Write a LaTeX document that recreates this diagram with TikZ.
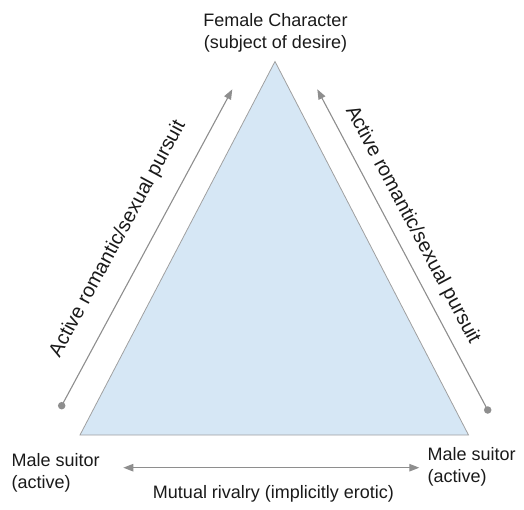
\documentclass[tikz,border=0pt]{standalone}
\usepackage{fontspec}
\setmainfont{Liberation Sans}
\usetikzlibrary{arrows.meta}
\definecolor{trifill}{HTML}{D6E7F5}
\definecolor{triedge}{HTML}{A0A0A0}
\definecolor{arrgray}{HTML}{8E8E8E}
\definecolor{txt}{HTML}{1A1A1A}
\tikzset{
  lbl/.style={inner sep=0pt, text=txt, font=\fontsize{18}{22.3}\selectfont},
  rotlbl/.style={inner sep=0pt, text=txt, font=\fontsize{20}{24}\selectfont},
  arr/.style={draw=arrgray, line width=1.1pt, -{Triangle[length=10pt,width=7.5pt]}},
  dblarr/.style={draw=arrgray, line width=1.1pt, {Triangle[length=10pt,width=7.5pt]}-{Triangle[length=10pt,width=7.5pt]}},
  dotend/.style={circle, fill=arrgray, inner sep=0pt, minimum size=7.5pt},
  tri/.style={fill=trifill, draw=triedge, line width=0.8pt, line join=miter}
}
\begin{document}
\begin{tikzpicture}[x=1pt,y=-1pt]
\useasboundingbox (0,0) rectangle (524,510);
% triangle
\coordinate (apex) at (275,61.5);
\coordinate (bl) at (80,435);
\coordinate (br) at (468.5,435);
\filldraw[tri] (apex) -- (bl) -- (br) -- cycle;
% labels
\node[lbl, anchor=north, align=center] (female) at (275.5,13) {Female Character\\(subject of desire)};
\node[lbl, anchor=north west, align=left] (suitorL) at (11.5,453) {Male suitor\\(active)};
\node[lbl, anchor=north west, align=left] (suitorR) at (427.5,447) {Male suitor\\(active)};
\node[lbl, anchor=base] (rivalry) at (273.5,498.7) {Mutual rivalry (implicitly erotic)};
% arrows
\node[dotend] (dotL) at (61.7,405.7) {};
\coordinate (tipL) at (232.3,89.3);
\node[dotend] (dotR) at (487.7,410) {};
\coordinate (tipR) at (317.3,89.3);
\draw[arr] (dotL.center) -- (tipL);
\draw[arr] (dotR.center) -- (tipR);
\coordinate (rivL) at (123.3,467.7);
\coordinate (rivR) at (419.3,467.7);
\draw[dblarr] (rivL) -- (rivR);
% rotated labels
\node[rotlbl, rotate=61.7] (pursuitL) at (118,239) {Active romantic/sexual pursuit};
\node[rotlbl, rotate=-62] (pursuitR) at (412.5,225) {Active romantic/sexual pursuit};
\end{tikzpicture}
\end{document}
